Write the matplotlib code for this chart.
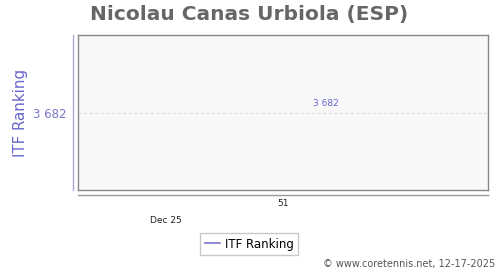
import matplotlib
matplotlib.use("Agg")
import matplotlib.pyplot as plt
from matplotlib.lines import Line2D

title = "Nicolau Canas Urbiola (ESP)"
weeks = [51]
rankings = [3682]
point_labels = ["3 682"]
ytick_labels = ["3 682"]
month_label = "Dec 25"
series_name = "ITF Ranking"
credit = "© www.coretennis.net, 12-17-2025"

fig = plt.figure(figsize=(5, 2.7), dpi=100)
fig.patch.set_facecolor("white")
ax = fig.add_axes([0.156, 0.296, 0.82, 0.574])
ax.set_facecolor("#f8f8f8")
for s in ax.spines.values():
    s.set_color("#888888")
    s.set_linewidth(1.0)

ax.plot(weeks, rankings, color="#7777cc", linewidth=1, marker="none")
ax.set_xlim(weeks[0] - 1, weeks[0] + 1)
ax.set_ylim(rankings[0] - 1, rankings[0] + 1)
ax.set_yticks(rankings)
ax.set_yticklabels(ytick_labels, color="#7777cc", fontsize=8.5)
ax.set_xticks([])
ax.tick_params(axis="y", length=0, pad=8)
ax.grid(axis="y", color="#dddddd", linestyle=(0, (3, 2)), linewidth=0.8)

for w, r, lab in zip(weeks, rankings, point_labels):
    ax.annotate(lab, (w, r), xytext=(31, 3), textcoords="offset points",
                color="#6666cc", fontsize=6.5, ha="center", va="bottom")

# outer axis lines
fig.add_artist(Line2D([0.146, 0.146], [0.296, 0.870], color="#aaaadd", linewidth=1.0))
fig.add_artist(Line2D([0.156, 0.976], [0.278, 0.278], color="#999999", linewidth=1.0))

fig.text(0.566, 0.245, str(weeks[0]), fontsize=6.5, ha="center", va="center", color="#222222")
fig.text(0.332, 0.185, month_label, fontsize=6.5, ha="center", va="center", color="#222222")

fig.text(0.499, 0.946, title, fontsize=14.5, fontweight="bold", color="#666666",
         ha="center", va="center")
fig.text(0.042, 0.582, series_name, rotation=90, fontsize=10.8, color="#6666cc",
         ha="center", va="center")

leg_handle = Line2D([], [], color="#7777cc", linewidth=1.2)
fig.legend([leg_handle], [series_name], loc="center", bbox_to_anchor=(0.498, 0.096),
           fontsize=8.5, frameon=True, fancybox=False, edgecolor="#bbbbbb",
           handlelength=1.3, handletextpad=0.4, borderpad=0.35)

fig.text(0.99, 0.022, credit, fontsize=7, ha="right", va="center", color="#555555")

fig.savefig("out.png", dpi=100)
